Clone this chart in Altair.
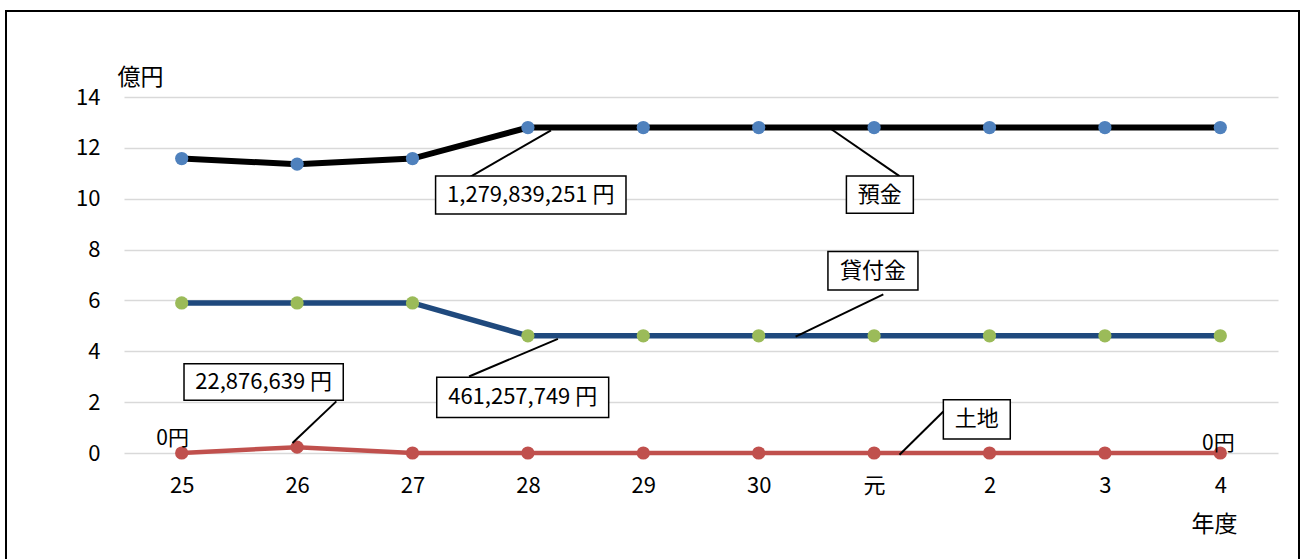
import json
import altair as alt
import pandas as pd

categories = ["25", "26", "27", "28", "29", "30", "元", "2", "3", "4"]
yokin = [11.58, 11.36, 11.58, 12.80, 12.80, 12.80, 12.80, 12.80, 12.80, 12.80]
kashitsuke = [5.90, 5.90, 5.90, 4.61, 4.61, 4.61, 4.61, 4.61, 4.61, 4.61]
tochi = [0.0, 0.23, 0.0, 0.0, 0.0, 0.0, 0.0, 0.0, 0.0, 0.0]

series_names = ["預金", "貸付金", "土地"]
series_values = [yokin, kashitsuke, tochi]
line_colors = ["#000000", "#1F497D", "#C0504D"]
marker_colors = ["#4F81BD", "#9BBB59", "#C0504D"]
line_widths = [6, 5.5, 4.5]

# callout boxes: text, box extents (x in category index units, y in 億円)
box_texts = ["1,279,839,251 円", "預金", "貸付金", "461,257,749 円", "22,876,639 円", "土地"]
box_x1 = [2.20, 5.76, 5.60, 2.21, 0.02, 6.60]
box_x2 = [3.85, 6.34, 6.38, 3.70, 1.40, 7.18]
box_y1 = [9.40, 9.43, 6.41, 1.40, 2.07, 0.55]
box_y2 = [10.89, 10.89, 7.92, 2.98, 3.51, 2.09]
# leader lines
lead_x1 = [2.50, 5.63, 5.32, 2.49, 0.96, 6.22]
lead_y1 = [10.86, 12.73, 4.58, 3.01, 0.39, -0.07]
lead_x2 = [3.20, 6.22, 6.08, 3.26, 1.34, 6.60]
lead_y2 = [12.69, 10.89, 6.24, 4.49, 2.03, 1.63]

FONT = "Noto Sans CJK JP"

rows = []
for name, vals in zip(series_names, series_values):
    for i, (c, v) in enumerate(zip(categories, vals)):
        rows.append({"series": name, "idx": i, "year": c, "value": v})
df = pd.DataFrame(rows)

boxes = pd.DataFrame({
    "text": box_texts, "x1": box_x1, "x2": box_x2, "y1": box_y1, "y2": box_y2,
})
boxes["cx"] = (boxes["x1"] + boxes["x2"]) / 2
boxes["cy"] = (boxes["y1"] + boxes["y2"]) / 2
leaders = pd.DataFrame({"x1": lead_x1, "y1": lead_y1, "x2": lead_x2, "y2": lead_y2})

label_expr = json.dumps(categories, ensure_ascii=False) + "[datum.value]"

xscale = alt.Scale(domain=[-0.5, 9.5], nice=False, zero=False)
yscale = alt.Scale(domain=[0, 14], nice=False)

x_axis = alt.Axis(
    values=list(range(len(categories))), labelExpr=label_expr, grid=False, ticks=False,
    domain=False, labelFont=FONT, labelFontSize=22, labelColor="#000000", labelPadding=22,
    title="年度", titleFont=FONT, titleFontSize=23, titleFontWeight="normal",
    titleColor="#000000", titleX=1090, titleY=71, titleAlign="center", titleBaseline="middle",
)
y_axis = alt.Axis(
    values=[0, 2, 4, 6, 8, 10, 12, 14], grid=True, gridColor="#D9D9D9", gridWidth=1.5,
    ticks=False, domain=False, labelFont=FONT, labelFontSize=22, labelColor="#000000",
    labelPadding=24, title="億円", titleFont=FONT, titleFontSize=23,
    titleFontWeight="normal", titleColor="#000000", titleAngle=0, titleX=16, titleY=-20,
    titleAlign="center", titleBaseline="middle",
)

base = alt.Chart(df)
layers = []
# axes-carrying invisible layer
layers.append(
    base.mark_point(opacity=0).encode(
        x=alt.X("idx:Q", scale=xscale, axis=x_axis),
        y=alt.Y("value:Q", scale=yscale, axis=y_axis),
    )
)
for name, lc, lw in zip(series_names, line_colors, line_widths):
    layers.append(
        base.transform_filter(alt.datum.series == name).mark_line(
            color=lc, strokeWidth=lw
        ).encode(x=alt.X("idx:Q", scale=xscale), y=alt.Y("value:Q", scale=yscale))
    )
for name, mc in zip(series_names, marker_colors):
    layers.append(
        base.transform_filter(alt.datum.series == name).mark_circle(
            color=mc, size=175, opacity=1
        ).encode(x=alt.X("idx:Q", scale=xscale), y=alt.Y("value:Q", scale=yscale))
    )

# "0円" labels for 土地 at first and last points
tochi_first = df[(df.series == "土地") & (df.idx == 0)]
tochi_last = df[(df.series == "土地") & (df.idx == len(categories) - 1)]
layers.append(
    alt.Chart(tochi_first).mark_text(
        text="0円", font=FONT, fontSize=21, color="#000000", dx=-9, dy=-14
    ).encode(x=alt.X("idx:Q", scale=xscale), y=alt.Y("value:Q", scale=yscale))
)
layers.append(
    alt.Chart(tochi_last).mark_text(
        text="0円", font=FONT, fontSize=21, color="#000000", dx=-2, dy=-9
    ).encode(x=alt.X("idx:Q", scale=xscale), y=alt.Y("value:Q", scale=yscale))
)

# leader lines
layers.append(
    alt.Chart(leaders).mark_rule(color="#000000", strokeWidth=2).encode(
        x=alt.X("x1:Q", scale=xscale), y=alt.Y("y1:Q", scale=yscale),
        x2="x2:Q", y2="y2:Q",
    )
)
# callout boxes
layers.append(
    alt.Chart(boxes).mark_rect(fill="#FFFFFF", stroke="#000000", strokeWidth=1.5).encode(
        x=alt.X("x1:Q", scale=xscale), x2="x2:Q",
        y=alt.Y("y1:Q", scale=yscale), y2="y2:Q",
    )
)
layers.append(
    alt.Chart(boxes).mark_text(font=FONT, fontSize=22, color="#000000").encode(
        x=alt.X("cx:Q", scale=xscale), y=alt.Y("cy:Q", scale=yscale), text="text:N"
    )
)
# outer frame
layers.append(
    alt.Chart(df.head(1)).mark_rect(
        fill="transparent", stroke="#000000", strokeWidth=2
    ).encode(
        x=alt.value(-118), x2=alt.value(1175), y=alt.value(-86), y2=alt.value(480)
    )
)

chart = alt.layer(*layers).properties(
    width=1154, height=356,
    autosize=alt.AutoSizeParams(type="none"),
    padding={"left": 124, "top": 97, "right": 24, "bottom": 106},
    background="#FFFFFF",
).configure_view(stroke=None)

chart.save("out.html", embed_options={"renderer": "svg", "actions": False})
